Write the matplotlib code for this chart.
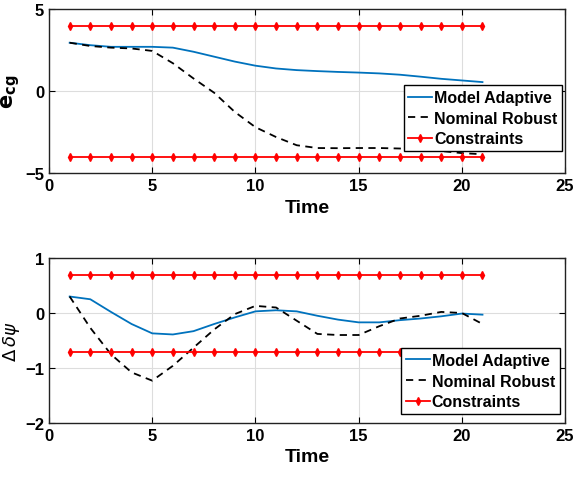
"""Model adaptive vs nominal robust tracking errors."""
import matplotlib
matplotlib.use("Agg")
import matplotlib.pyplot as plt
from matplotlib.ticker import MultipleLocator

plt.rcParams["font.family"] = ["Liberation Sans", "DejaVu Sans"]
plt.rcParams["font.weight"] = "bold"
plt.rcParams["mathtext.fontset"] = "custom"
plt.rcParams["mathtext.rm"] = "DejaVu Sans:weight=normal"
plt.rcParams["mathtext.it"] = "DejaVu Sans:style=italic:weight=normal"
plt.rcParams["mathtext.bf"] = "DejaVu Sans:weight=bold"

t = list(range(1, 22))

# e_cg
ecg_adaptive = [2.95, 2.8, 2.7, 2.7, 2.7, 2.65, 2.4, 2.1, 1.8, 1.55, 1.38, 1.28, 1.22, 1.17, 1.13, 1.08, 1.0, 0.88, 0.75, 0.65, 0.55]
ecg_robust = [2.95, 2.75, 2.65, 2.6, 2.45, 1.7, 0.77, -0.1, -1.27, -2.2, -2.8, -3.3, -3.47, -3.48, -3.47, -3.47, -3.5, -3.58, -3.65, -3.78, -3.85]
ecg_limit = 4.0

# delta delta psi
dpsi_adaptive = [0.3, 0.25, 0.02, -0.2, -0.37, -0.39, -0.33, -0.2, -0.08, 0.03, 0.05, 0.03, -0.05, -0.12, -0.17, -0.17, -0.13, -0.1, -0.06, -0.01, -0.03]
dpsi_robust = [0.3, -0.27, -0.75, -1.08, -1.23, -0.96, -0.63, -0.3, -0.02, 0.13, 0.1, -0.14, -0.38, -0.4, -0.4, -0.24, -0.1, -0.05, 0.02, 0.0, -0.2]
dpsi_limit = 0.7

BLUE = "#0072BD"

fig = plt.figure(figsize=(5.74, 4.81), dpi=100)
ax1 = fig.add_axes([0.0854, 0.638, 0.899, 0.341])
ax2 = fig.add_axes([0.0854, 0.1185, 0.899, 0.343])


def draw(ax, adaptive, robust, limit, anchor):
    ax.plot(t, adaptive, color=BLUE, lw=1.3, label="Model Adaptive")
    ax.plot(t, robust, color="black", lw=1.3, ls=(0, (4, 3)), label="Nominal Robust")
    ax.plot(t, [limit] * len(t), color="red", lw=1.3, marker="d", ms=3.8, label="Constraints")
    ax.plot(t, [-limit] * len(t), color="red", lw=1.3, marker="d", ms=3.8)
    ax.set_xlim(0, 25)
    ax.xaxis.set_major_locator(MultipleLocator(5))
    ax.grid(True, color="#dddddd", lw=0.8)
    ax.set_axisbelow(True)
    ax.tick_params(direction="in", top=True, right=True, labelsize=12, length=4)
    for s in ax.spines.values():
        s.set_linewidth(1.0)
        s.set_color("#222222")
    ax.set_xlabel("Time", fontsize=14, fontweight="bold", labelpad=4)
    leg = ax.legend(loc="lower right", bbox_to_anchor=anchor, fontsize=11.5, frameon=True,
                    fancybox=False, edgecolor="black", framealpha=1, handlelength=1.5,
                    handletextpad=0.1, borderpad=0.3, labelspacing=0.35, borderaxespad=0)
    leg.get_frame().set_linewidth(1.0)
    return ax


draw(ax1, ecg_adaptive, ecg_robust, ecg_limit, (0.994, 0.134))
ax1.set_ylim(-5, 5)
ax1.yaxis.set_major_locator(MultipleLocator(5))
ax1.set_ylabel(r"$\mathbf{e}_{\mathbf{cg}}$", fontsize=15, labelpad=2)

draw(ax2, dpsi_adaptive, dpsi_robust, dpsi_limit, (0.99, 0.055))
ax2.set_ylim(-2, 1)
ax2.yaxis.set_major_locator(MultipleLocator(1))
ax2.set_ylabel(r"$\Delta\,\delta\psi$", fontsize=13, fontweight="normal", labelpad=2)

fig.savefig("out.png", dpi=100)
plt.close(fig)
